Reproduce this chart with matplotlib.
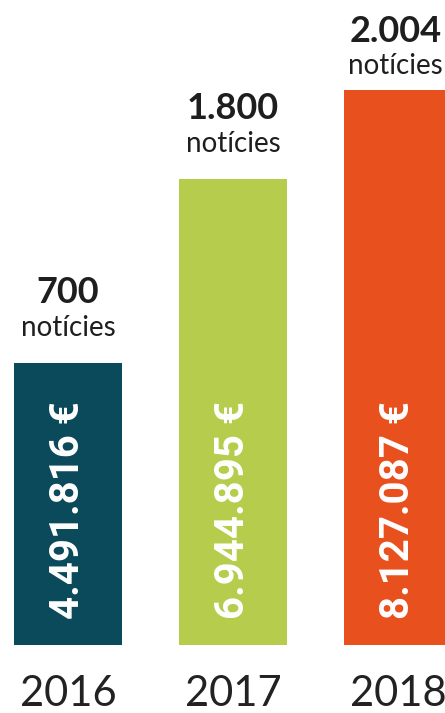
import matplotlib.pyplot as plt

years = ["2016", "2017", "2018"]
euros = [4491816, 6944895, 8127087]
euro_labels = ["4.491.816 €", "6.944.895 €", "8.127.087 €"]
news = ["700", "1.800", "2.004"]
colors = ["#0b4a5a", "#b5cc4c", "#e8511e"]

fig = plt.figure(figsize=(4.45, 7.13), dpi=100)
ax = fig.add_axes([0, 68 / 713, 1, 645 / 713])

x = range(len(years))
ax.bar(x, euros, width=0.655, color=colors)
ax.set_xlim(-68 / 165, 377 / 165)
ax.set_ylim(738000, 9327000)
ax.axis("off")

# last bar is close to the top, so its labels sit a bit tighter
num_off = [51, 51, 42]
word_off = [25, 25, 17]

for i in x:
    ax.annotate(news[i], (i, euros[i]), xytext=(-2 if i == 2 else 0, num_off[i]),
                textcoords="offset points", ha="center", va="center", fontsize=26,
                fontweight="bold", family="Lato", color="#1e1e1e", annotation_clip=False)
    ax.annotate("notícies", (i, euros[i]), xytext=(-2 if i == 2 else 0, word_off[i]),
                textcoords="offset points", ha="center", va="center", fontsize=20,
                family="Lato", color="#1e1e1e", annotation_clip=False)
    ax.annotate(euro_labels[i], (i, 738000), xytext=(0, 19), textcoords="offset points",
                ha="center", va="bottom", rotation=90, fontsize=29, fontweight="bold",
                family="Roboto", color="white")
    ax.annotate(years[i], (i, 738000), xytext=(0, -35), textcoords="offset points",
                ha="center", va="center", fontsize=30, fontweight="normal",
                family="Lato", color="#222222", annotation_clip=False)

fig.savefig("out.png", dpi=100)
